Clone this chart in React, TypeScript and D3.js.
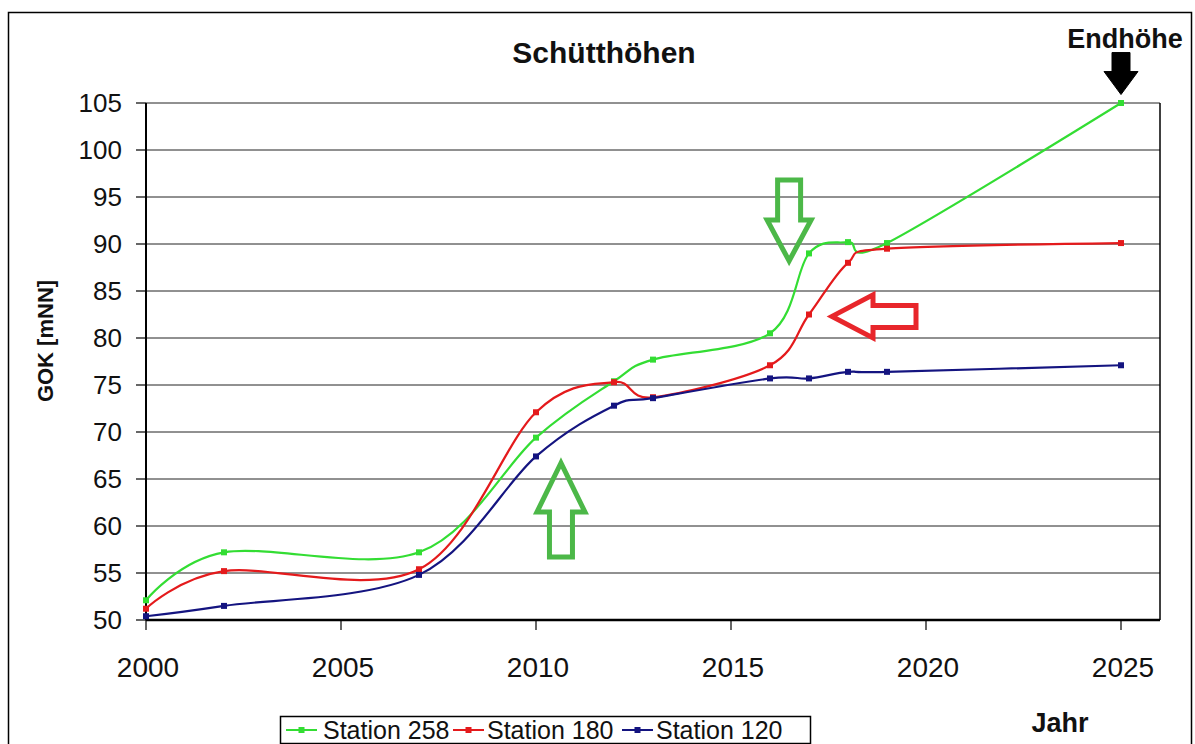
import React from "react";
import * as d3 from "d3";

const years = [2000, 2002, 2007, 2010, 2012, 2013, 2016, 2017, 2018, 2019, 2025];
const station258 = [52.1, 57.2, 57.2, 69.4, 75.4, 77.7, 80.5, 89.0, 90.2, 90.1, 105];
const station180 = [51.2, 55.2, 55.4, 72.1, 75.3, 73.7, 77.1, 82.5, 88.0, 89.5, 90.1];
const station120 = [50.4, 51.5, 54.8, 67.4, 72.8, 73.6, 75.7, 75.7, 76.4, 76.4, 77.1];
const seriesNames = ["Station 258", "Station 180", "Station 120"];
const seriesColors = ["#33dd33", "#e41a1c", "#141480"];
const xTicks = [2000, 2005, 2010, 2015, 2020, 2025];
const yTicks = [50, 55, 60, 65, 70, 75, 80, 85, 90, 95, 100, 105];

const W = 1195;
const H = 744;

export default function App() {
  const x = d3.scaleLinear().domain([2000, 2025]).range([146, 1121]);
  const y = d3.scaleLinear().domain([50, 105]).range([620, 103]);
  const xRight = x(2026);
  const allSeries = [station258, station180, station120];
  const line = d3
    .line<[number, number]>()
    .x((d) => x(d[0]))
    .y((d) => y(d[1]))
    .curve(d3.curveCardinal.tension(0));

  const font = "Arial, 'Liberation Sans', sans-serif";

  // annotation arrows (tip in data space)
  const gd = { x: x(2016.49), y: y(88.2) }; // green down
  const rl = { x: x(2017.59), y: y(82.3) }; // red left
  const gu = { x: x(2010.64), y: y(66.7) }; // green up
  const bk = { x: x(2025), y: y(105.9) }; // black endhöhe

  const downArrow = (t: { x: number; y: number }, headLen: number, headHalf: number, shaftHalf: number, shaftLen: number) =>
    `M${t.x},${t.y} L${t.x - headHalf},${t.y - headLen} L${t.x - shaftHalf},${t.y - headLen} L${t.x - shaftHalf},${t.y - shaftLen} L${t.x + shaftHalf},${t.y - shaftLen} L${t.x + shaftHalf},${t.y - headLen} L${t.x + headHalf},${t.y - headLen} Z`;
  const upArrow = (t: { x: number; y: number }, headLen: number, headHalf: number, shaftHalf: number, shaftLen: number) =>
    `M${t.x},${t.y} L${t.x - headHalf},${t.y + headLen} L${t.x - shaftHalf},${t.y + headLen} L${t.x - shaftHalf},${t.y + shaftLen} L${t.x + shaftHalf},${t.y + shaftLen} L${t.x + shaftHalf},${t.y + headLen} L${t.x + headHalf},${t.y + headLen} Z`;
  const leftArrow = (t: { x: number; y: number }, headLen: number, headHalf: number, shaftHalf: number, shaftLen: number) =>
    `M${t.x},${t.y} L${t.x + headLen},${t.y - headHalf} L${t.x + headLen},${t.y - shaftHalf} L${t.x + shaftLen},${t.y - shaftHalf} L${t.x + shaftLen},${t.y + shaftHalf} L${t.x + headLen},${t.y + shaftHalf} L${t.x + headLen},${t.y + headHalf} Z`;

  const legendItems = [
    { lx: 286, tx: 323 },
    { lx: 453, tx: 487 },
    { lx: 622, tx: 656 },
  ];

  return (
    <svg
      width={W}
      height={H}
      style={{ position: "absolute", left: 0, top: 0, background: "#fff" }}
      fontFamily={font}
    >
      <rect x={0} y={0} width={W} height={H} fill="#fff" />
      <rect x={8.5} y={12.5} width={1183} height={760} fill="none" stroke="#000" strokeWidth={1.5} />

      {/* gridlines */}
      {yTicks.map((t) => (
        <line key={"g" + t} x1={x(2000)} x2={xRight} y1={y(t)} y2={y(t)} stroke="#222" strokeWidth={1} />
      ))}
      {/* plot frame right */}
      <line x1={xRight} x2={xRight} y1={y(105)} y2={y(50)} stroke="#000" strokeWidth={1.5} />

      {/* y axis */}
      <line x1={x(2000)} x2={x(2000)} y1={y(105)} y2={y(50)} stroke="#000" strokeWidth={2} />
      {yTicks.map((t) => (
        <g key={"y" + t}>
          <line x1={x(2000) - 10} x2={x(2000)} y1={y(t)} y2={y(t)} stroke="#000" strokeWidth={1.2} />
          <text x={122} y={y(t)} dy="0.36em" textAnchor="end" fontSize={26} fill="#111">
            {t}
          </text>
        </g>
      ))}

      {/* x axis */}
      <line x1={x(2000)} x2={xRight} y1={y(50)} y2={y(50)} stroke="#000" strokeWidth={2.5} />
      {xTicks.map((t) => (
        <g key={"x" + t}>
          <line x1={x(t)} x2={x(t)} y1={y(50)} y2={y(50) + 10} stroke="#000" strokeWidth={1.2} />
          <text x={x(t) + 2} y={677} textAnchor="middle" fontSize={28} fill="#111">
            {t}
          </text>
        </g>
      ))}

      {/* series */}
      {allSeries.map((vals, i) => {
        const pts = years.map((yr, j) => [yr, vals[j]] as [number, number]);
        return (
          <g key={"s" + i}>
            <path d={line(pts) || ""} fill="none" stroke={seriesColors[i]} strokeWidth={2.2} />
            {pts.map((p, j) => (
              <rect key={j} x={x(p[0]) - 3} y={y(p[1]) - 3} width={6} height={6} fill={seriesColors[i]} />
            ))}
          </g>
        );
      })}

      {/* arrows */}
      <path d={downArrow(gd, 41, 22, 11.5, 81)} fill="none" stroke="#4cb848" strokeWidth={5} strokeLinejoin="miter" />
      <path d={leftArrow(rl, 41, 21.5, 11, 84)} fill="none" stroke="#e8262b" strokeWidth={5} strokeLinejoin="miter" />
      <path d={upArrow(gu, 49, 24, 11.5, 94)} fill="none" stroke="#4cb848" strokeWidth={5} strokeLinejoin="miter" />
      <path d={downArrow(bk, 23, 17, 9, 42)} fill="#000" stroke="#000" strokeWidth={1} />

      {/* titles */}
      <text x={604} y={63} textAnchor="middle" fontSize={30} fontWeight="bold" fill="#111">
        Schütthöhen
      </text>
      <text x={1125} y={48} textAnchor="middle" fontSize={27} fontWeight="bold" fill="#111">
        Endhöhe
      </text>
      <text
        transform={`translate(53,341) rotate(-90)`}
        textAnchor="middle"
        fontSize={22}
        fontWeight="bold"
        fill="#111"
      >
        GOK [mNN]
      </text>
      <text x={1060} y={732} textAnchor="middle" fontSize={27} fontWeight="bold" fill="#111">
        Jahr
      </text>

      {/* legend */}
      <rect x={280.5} y={716.5} width={530} height={27} fill="#fff" stroke="#000" strokeWidth={1.5} />
      {legendItems.map((it, i) => (
        <g key={"l" + i}>
          <line x1={it.lx} x2={it.lx + 31} y1={730} y2={730} stroke={seriesColors[i]} strokeWidth={2} />
          <rect x={it.lx + 12.5} y={727} width={6} height={6} fill={seriesColors[i]} />
          <text x={it.tx} y={739} fontSize={25} fill="#111">
            {seriesNames[i]}
          </text>
        </g>
      ))}
    </svg>
  );
}
